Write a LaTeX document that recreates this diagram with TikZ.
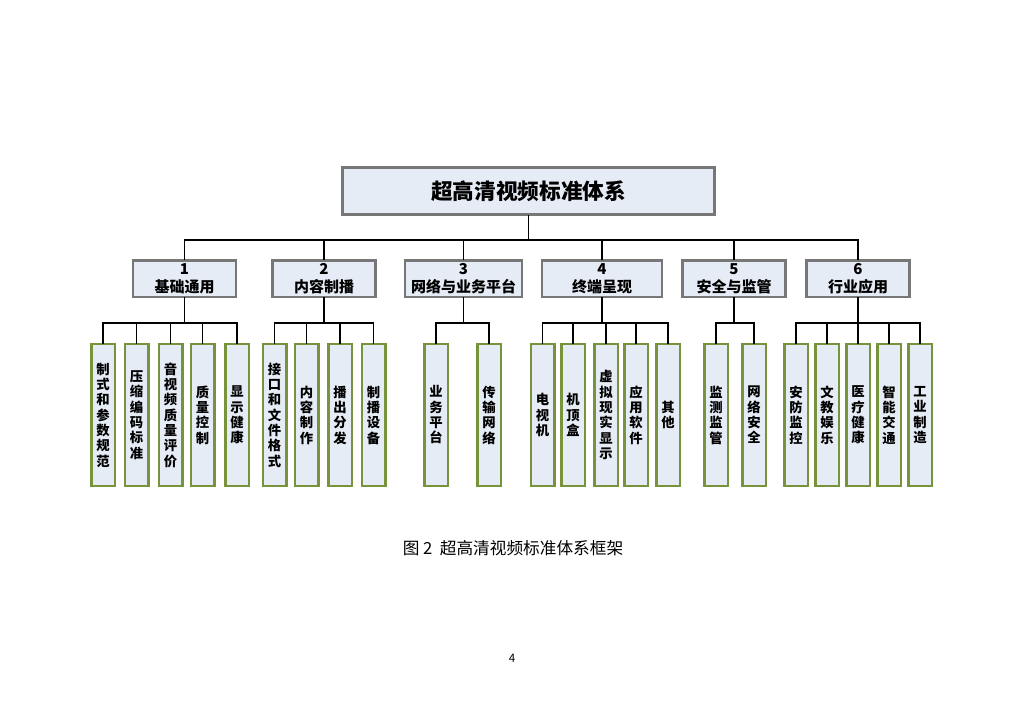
\documentclass[tikz,border=0pt]{standalone}
\usepackage{fontspec}
\setmainfont{Noto Sans CJK SC}
\usetikzlibrary{calc}

\definecolor{boxfill}{HTML}{E6ECF6}
\definecolor{boxgray}{HTML}{777777}
\definecolor{leafgreen}{HTML}{77933C}

\begin{document}
\begin{tikzpicture}[
  x=0.6pt, y=-0.6pt,
  line cap=rect,
  line join=miter,
  root/.style={draw=boxgray,line width=1.8pt,fill=boxfill,
    minimum width=223pt,minimum height=28.2pt,inner sep=0pt,
    font=\bfseries\fontsize{13}{15}\selectfont},
  cat/.style={draw=boxgray,line width=1.5pt,fill=boxfill,
    minimum height=21.9pt,inner sep=0pt,align=center,
    font=\bfseries\fontsize{9}{10.8}\selectfont},
  leaf/.style={draw=leafgreen,line width=1.5pt,fill=boxfill,
    minimum width=14.1pt,minimum height=85pt,inner sep=0pt,align=center,
    font=\bfseries\fontsize{8}{9.2}\selectfont},
  link/.style={line width=0.9pt}
]
\useasboundingbox (0,0) rectangle (1024,724);

% ------------------------------------------------------------------
% Root and first level
% ------------------------------------------------------------------
\node[root] (root) at (528.5,191) {超高清视频标准体系};

\node[cat,minimum width=62pt] (c1) at (184.5,278.5) {1\\基础通用};
\node[cat,minimum width=62pt] (c2) at (324,278.5) {2\\内容制播};
\node[cat,minimum width=70pt] (c3) at (463.5,278.5) {3\\网络与业务平台};
\node[cat,minimum width=72pt] (c4) at (602,278.5) {4\\终端呈现};
\node[cat,minimum width=62pt] (c5) at (734,278.5) {5\\安全与监管};
\node[cat,minimum width=62pt] (c6) at (858,278.5) {6\\行业应用};

\coordinate (topbus) at (0,240);
\coordinate (leafbus) at (0,323);
\foreach \g in {1,...,6}
  \draw[link] (root.south) -- (root.south |- topbus) -| (c\g.north);

% ------------------------------------------------------------------
% Leaves
% ------------------------------------------------------------------
\foreach \n/\x/\t in {a/103/{制\\式\\和\\参\\数\\规\\范},
                      b/136.5/{压\\缩\\编\\码\\标\\准},
                      c/170.5/{音\\视\\频\\质\\量\\评\\价},
                      d/202.5/{质\\量\\控\\制},
                      e/237/{显\\示\\健\\康}} {
  \node[leaf] (l1\n) at (\x,415) {\t};
  \draw[link] (c1.south) -- (c1.south |- leafbus) -| (l1\n.north);
}

\foreach \n/\x/\t in {a/274.5/{接\\口\\和\\文\\件\\格\\式},
                      b/306.5/{内\\容\\制\\作},
                      c/340/{播\\出\\分\\发},
                      d/373.5/{制\\播\\设\\备}} {
  \node[leaf] (l2\n) at (\x,415) {\t};
  \draw[link] (c2.south) -- (c2.south |- leafbus) -| (l2\n.north);
}

\foreach \n/\x/\t in {a/436/{业\\务\\平\\台},
                      b/489/{传\\输\\网\\络}} {
  \node[leaf] (l3\n) at (\x,415) {\t};
  \draw[link] (c3.south) -- (c3.south |- leafbus) -| (l3\n.north);
}

\foreach \n/\x/\t in {a/542.5/{电\\视\\机},
                      b/573/{机\\顶\\盒},
                      c/606/{虚\\拟\\现\\实\\显\\示},
                      d/636/{应\\用\\软\\件},
                      e/668/{其\\他}} {
  \node[leaf] (l4\n) at (\x,415) {\t};
  \draw[link] (c4.south) -- (c4.south |- leafbus) -| (l4\n.north);
}

\foreach \n/\x/\t in {a/716/{监\\测\\监\\管},
                      b/754/{网\\络\\安\\全}} {
  \node[leaf] (l5\n) at (\x,415) {\t};
  \draw[link] (c5.south) -- (c5.south |- leafbus) -| (l5\n.north);
}

\foreach \n/\x/\t in {a/796/{安\\防\\监\\控},
                      b/827/{文\\教\\娱\\乐},
                      c/858/{医\\疗\\健\\康},
                      d/889/{智\\能\\交\\通},
                      e/920/{工\\业\\制\\造}} {
  \node[leaf] (l6\n) at (\x,415) {\t};
  \draw[link] (c6.south) -- (c6.south |- leafbus) -| (l6\n.north);
}

% ------------------------------------------------------------------
% Caption and page number
% ------------------------------------------------------------------
\node[font=\fontsize{10}{12}\selectfont] (caption) at (513,548) {图 2\ \ 超高清视频标准体系框架};
\node[font=\fontsize{7}{8}\selectfont] (pagenum) at (512,658) {4};

\end{tikzpicture}
\end{document}
